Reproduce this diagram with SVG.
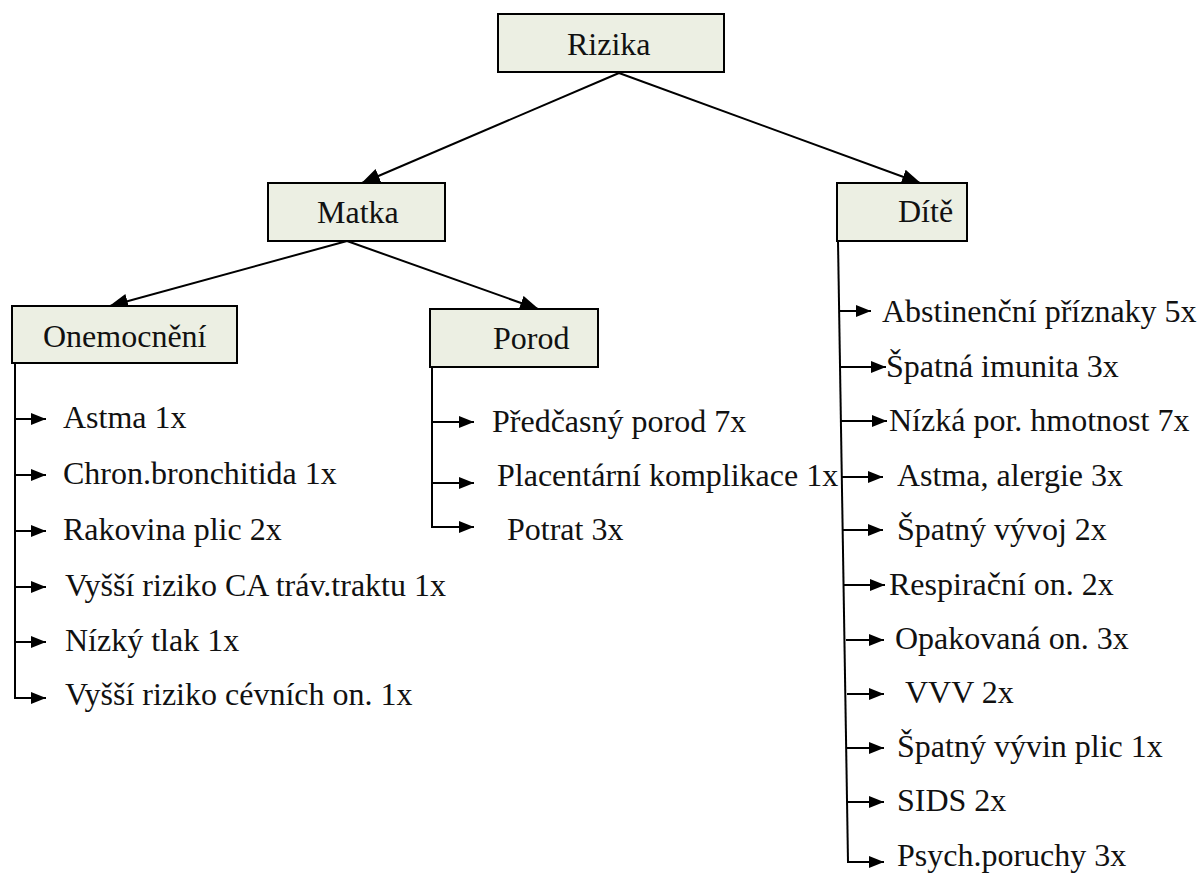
<svg xmlns="http://www.w3.org/2000/svg" width="1197" height="877" viewBox="0 0 1197 877" font-family="Liberation Serif, DejaVu Serif, serif">
<defs>
<style>
.box{fill:#ECEFE3;stroke:#000;stroke-width:2}
.t{font-family:'Liberation Serif','DejaVu Serif',serif;font-size:32px;fill:#111}
.c{stroke:#000;stroke-width:2;fill:none}
.big{marker-end:url(#ab)}
.sm{marker-end:url(#as)}
</style>
<marker id="ab" markerUnits="userSpaceOnUse" markerWidth="19" markerHeight="15" refX="18" refY="7.5" orient="auto"><path d="M0,0 L19,7.5 L0,15 z" fill="#000"/></marker>
<marker id="as" markerUnits="userSpaceOnUse" markerWidth="15" markerHeight="12" refX="15" refY="6" orient="auto"><path d="M0,0 L15,6 L0,12 z" fill="#000"/></marker>
</defs>
<rect width="1197" height="877" fill="#fff"/>
<g id="connectors">
<line class="c big" x1="619" y1="73" x2="362" y2="183"/>
<line class="c big" x1="619" y1="73" x2="920" y2="183"/>
<line class="c big" x1="347" y1="241" x2="110" y2="306"/>
<line class="c big" x1="347" y1="241" x2="538" y2="309"/>
<polyline class="c" points="15,363 15,698"/>
<line class="c sm" x1="15" y1="419" x2="46" y2="419"/>
<line class="c sm" x1="15" y1="475" x2="46" y2="475"/>
<line class="c sm" x1="15" y1="531" x2="46" y2="531"/>
<line class="c sm" x1="15" y1="587" x2="46" y2="587"/>
<line class="c sm" x1="15" y1="642" x2="46" y2="642"/>
<polyline class="c sm" points="15,697 15,698 46,698"/>
<polyline class="c" points="432,367 432,527"/>
<line class="c sm" x1="432" y1="422" x2="474" y2="422"/>
<line class="c sm" x1="432" y1="483" x2="474" y2="483"/>
<polyline class="c sm" points="432,526 432,527 474,527"/>
<polyline class="c" points="838,241 848,862"/>
<line class="c sm" x1="839" y1="311" x2="871" y2="311"/>
<line class="c sm" x1="840" y1="367" x2="886" y2="367"/>
<line class="c sm" x1="841" y1="421" x2="887" y2="421"/>
<line class="c sm" x1="842" y1="477" x2="883" y2="477"/>
<line class="c sm" x1="842" y1="530" x2="883" y2="530"/>
<line class="c sm" x1="843" y1="585" x2="885" y2="585"/>
<line class="c sm" x1="846" y1="640" x2="884" y2="640"/>
<line class="c sm" x1="847" y1="694" x2="884" y2="694"/>
<line class="c sm" x1="847" y1="748" x2="884" y2="748"/>
<line class="c sm" x1="848" y1="802" x2="884" y2="802"/>
<polyline class="c sm" points="848,861 848,862 884,862"/>
</g>
<g id="rizika"><rect class="box" x="498" y="14" width="226" height="58"/><text class="t" x="567" y="55">Rizika</text></g>
<g id="matka"><rect class="box" x="268" y="183" width="177" height="58"/><text class="t" x="317" y="223">Matka</text></g>
<g id="dite"><rect class="box" x="837" y="183" width="130" height="58"/><text class="t" x="898" y="222">Dítě</text></g>
<g id="onemocneni"><rect class="box" x="12" y="306" width="225" height="57"/><text class="t" x="43" y="347">Onemocnění</text></g>
<g id="porod"><rect class="box" x="430" y="309" width="168" height="58"/><text class="t" x="493" y="349">Porod</text></g>
<g id="onemocneni-items">
<text class="t" x="63" y="428">Astma 1x</text>
<text class="t" x="63" y="484">Chron.bronchitida 1x</text>
<text class="t" x="63" y="540">Rakovina plic 2x</text>
<text class="t" x="65" y="596">Vyšší riziko CA tráv.traktu 1x</text>
<text class="t" x="65" y="651">Nízký tlak 1x</text>
<text class="t" x="65" y="705">Vyšší riziko cévních on. 1x</text>
</g>
<g id="porod-items">
<text class="t" x="492" y="432">Předčasný porod 7x</text>
<text class="t" x="497" y="486">Placentární komplikace 1x</text>
<text class="t" x="507" y="540">Potrat 3x</text>
</g>
<g id="dite-items">
<text class="t" x="882" y="322">Abstinenční příznaky 5x</text>
<text class="t" x="886" y="377">Špatná imunita 3x</text>
<text class="t" x="889" y="431">Nízká por. hmotnost 7x</text>
<text class="t" x="897" y="486">Astma, alergie 3x</text>
<text class="t" x="897" y="540">Špatný vývoj 2x</text>
<text class="t" x="889" y="595">Respirační on. 2x</text>
<text class="t" x="895" y="649">Opakovaná on. 3x</text>
<text class="t" x="905" y="703">VVV 2x</text>
<text class="t" x="897" y="757">Špatný vývin plic 1x</text>
<text class="t" x="897" y="811">SIDS 2x</text>
<text class="t" x="897" y="866">Psych.poruchy 3x</text>
</g>
</svg>
